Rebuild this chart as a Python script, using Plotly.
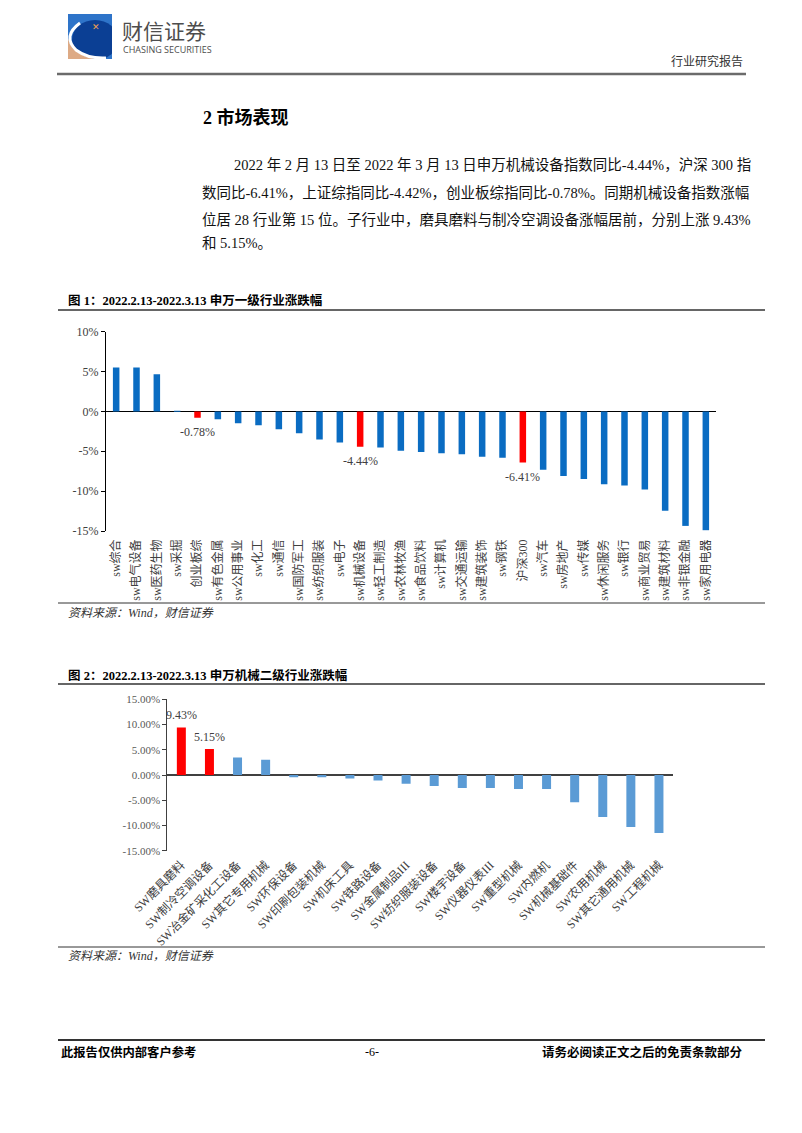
import plotly.graph_objects as go

# page is 802x1133; the html body adds an 8px margin, so the figure is drawn from (8, 8)
PAGE_W, PAGE_H = 802, 1133
OFF = 8
FW, FH = PAGE_W - OFF, PAGE_H - OFF

# ---------------- data ----------------
ind_names = ["sw综合", "sw电气设备", "sw医药生物", "sw采掘", "创业板综", "sw有色金属", "sw公用事业",
             "sw化工", "sw通信", "sw国防军工", "sw纺织服装", "sw电子", "sw机械设备", "sw轻工制造",
             "sw农林牧渔", "sw食品饮料", "sw计算机", "sw交通运输", "sw建筑装饰", "sw钢铁", "沪深300",
             "sw汽车", "sw房地产", "sw传媒", "sw休闲服务", "sw银行", "sw商业贸易", "sw建筑材料",
             "sw非银金融", "sw家用电器"]
ind_values = [5.50, 5.50, 4.66, 0.03, -0.78, -0.97, -1.48, -1.74, -2.25, -2.75, -3.52, -3.90, -4.44,
              -4.53, -4.92, -5.08, -5.25, -5.38, -5.68, -5.80, -6.41, -7.33, -8.10, -8.47, -9.15,
              -9.28, -9.79, -12.46, -14.36, -14.90]
ind_highlight = ["创业板综", "sw机械设备", "沪深300"]
ind_tickvals = [10, 5, 0, -5, -10, -15]
ind_ticktext = ["10%", "5%", "0%", "-5%", "-10%", "-15%"]

mach_names = ["SW磨具磨料", "SW制冷空调设备", "SW冶金矿采化工设备", "SW其它专用机械", "SW环保设备",
              "SW印刷包装机械", "SW机床工具", "SW铁路设备", "SW金属制品III", "SW纺织服装设备",
              "SW楼宇设备", "SW仪器仪表III", "SW重型机械", "SW内燃机", "SW机械基础件", "SW农用机械",
              "SW其它通用机械", "SW工程机械"]
mach_values = [9.43, 5.15, 3.45, 3.04, -0.47, -0.45, -0.68, -1.08, -1.75, -2.16, -2.57, -2.57,
               -2.77, -2.77, -5.40, -8.30, -10.30, -11.50]
mach_highlight = ["SW磨具磨料", "SW制冷空调设备"]
mach_tickvals = [15, 10, 5, 0, -5, -10, -15]
mach_ticktext = ["15.00%", "10.00%", "5.00%", "0.00%", "-5.00%", "-10.00%", "-15.00%"]

para_lines = [
    "2022 年 2 月 13 日至 2022 年 3 月 13 日申万机械设备指数同比-4.44%，沪深 300 指",
    "数同比-6.41%，上证综指同比-4.42%，创业板综指同比-0.78%。同期机械设备指数涨幅",
    "位居 28 行业第 15 位。子行业中，磨具磨料与制冷空调设备涨幅居前，分别上涨 9.43%",
    "和 5.15%。",
]

# ---------------- style ----------------
SERIF = "Liberation Serif, Noto Sans CJK SC"
CJK = "Noto Sans CJK SC"
BLUE1 = "#0A6CC2"
BLUE2 = "#5B9BD5"
RED = "#FF0000"
TXT = "#404040"


def X(px):
    return (px - OFF) / FW


def Y(py):
    return 1 - (py - OFF) / FH


fig = go.Figure()
fig.add_trace(go.Bar(
    x=ind_names, y=ind_values, width=0.32,
    marker=dict(color=[RED if n in ind_highlight else BLUE1 for n in ind_names], line_width=0),
    xaxis="x", yaxis="y", showlegend=False, hoverinfo="x+y"))
fig.add_trace(go.Bar(
    x=mach_names, y=mach_values, width=0.32,
    marker=dict(color=[RED if n in mach_highlight else BLUE2 for n in mach_names], line_width=0),
    xaxis="x2", yaxis="y2", showlegend=False, hoverinfo="x+y"))

annotations = []
shapes = []

# value labels
for n, v in zip(ind_names, ind_values):
    if n in ind_highlight:
        annotations.append(dict(x=n, y=v, xref="x", yref="y", text=f"{v:.2f}%", showarrow=False,
                                yanchor="top", yshift=-5, font=dict(family=SERIF, size=12, color=TXT)))
for n, v in zip(mach_names, mach_values):
    if n in mach_highlight:
        annotations.append(dict(x=n, y=v, xref="x2", yref="y2", text=f"{v:.2f}%", showarrow=False,
                                yanchor="bottom", yshift=3, font=dict(family=SERIF, size=12, color=TXT)))


def text(px, py, s, size, color="#000", family=SERIF, anchor="left", bold=False, italic=False):
    if bold:
        s = f"<b>{s}</b>"
    if italic:
        s = f"<i>{s}</i>"
    annotations.append(dict(x=X(px), y=Y(py), xref="paper", yref="paper", text=s, showarrow=False,
                            xanchor=anchor, yanchor="middle", font=dict(family=family, size=size, color=color)))


def hline(x0, x1, py, color, width):
    shapes.append(dict(type="line", xref="paper", yref="paper", x0=X(x0), x1=X(x1), y0=Y(py), y1=Y(py),
                       line=dict(color=color, width=width)))


# page header: logo
shapes.append(dict(type="rect", xref="paper", yref="paper", x0=X(68), x1=X(112), y0=Y(59), y1=Y(14),
                   fillcolor="#2E74C9", line_width=0, layer="above"))
shapes.append(dict(type="circle", xref="paper", yref="paper", x0=X(72), x1=X(118), y0=Y(60), y1=Y(20),
                   fillcolor="#0B3F94", line_width=0, layer="above"))
shapes.append(dict(type="rect", xref="paper", yref="paper", x0=X(112), x1=X(120), y0=Y(62), y1=Y(14),
                   fillcolor="white", line_width=0, layer="above"))
shapes.append(dict(type="rect", xref="paper", yref="paper", x0=X(66), x1=X(120), y0=Y(63), y1=Y(59),
                   fillcolor="white", line_width=0, layer="above"))
shapes.append(dict(type="path", xref="paper", yref="paper",
                   path=f"M {X(68)},{Y(38)} Q {X(72)},{Y(55)} {X(96)},{Y(59)} L {X(68)},{Y(59)} Z",
                   fillcolor="#DDAA85", line_width=0, layer="above"))
shapes.append(dict(type="path", xref="paper", yref="paper",
                   path=f"M {X(80)},{Y(23)} Q {X(62)},{Y(36)} {X(76)},{Y(50)} Q {X(88)},{Y(59)} {X(106)},{Y(58)}",
                   line=dict(color="white", width=3), layer="above"))
text(96, 26, "✕", 9, "#F0A050", CJK, "center")
text(120, 30, "财信证券", 21, "#4d4d4d", CJK)
text(121, 50, "CHASING SECURITIES", 9, "#4d4d4d", "Open Sans")
text(745, 61, "行业研究报告", 12, "#333", CJK, "right")
hline(57, 746, 74, "#6b6b6b", 2.5)

# section title and paragraph
text(201, 118, "2 市场表现", 18, "#000", SERIF, bold=True)
para_y = [165, 192, 219, 243]
for i, (line, py) in enumerate(zip(para_lines, para_y)):
    text(232 if i == 0 else 200, py, line, 14.5, "#111", SERIF)

# figure 1 caption / source
text(66, 300, "图 1：2022.2.13-2022.3.13 申万一级行业涨跌幅", 12.5, "#000", SERIF, bold=True)
hline(58, 765, 310, "#333", 1.5)
hline(58, 765, 603, "#333", 1)
text(66, 613, "资料来源：Wind，财信证券", 12, "#333", SERIF, italic=True)

# figure 2 caption / source
text(66, 675, "图 2：2022.2.13-2022.3.13 申万机械二级行业涨跌幅", 12.5, "#000", SERIF, bold=True)
hline(58, 765, 684, "#333", 1.5)
hline(58, 765, 947, "#333", 1)
text(66, 956, "资料来源：Wind，财信证券", 12, "#333", SERIF, italic=True)

# footer
hline(58, 765, 1040, "#333", 2)
text(59, 1052, "此报告仅供内部客户参考", 12.3, "#000", SERIF, bold=True)
text(372, 1052, "-6-", 12, "#000", SERIF, "center")
text(745, 1052, "请务必阅读正文之后的免责条款部分", 12.5, "#000", SERIF, "right", bold=True)

fig.update_layout(
    template="none",
    width=FW, height=FH, margin=dict(l=0, r=0, t=0, b=0, pad=0, autoexpand=False),
    paper_bgcolor="white", plot_bgcolor="white",
    bargap=0.6, showlegend=False,
    annotations=annotations, shapes=shapes,
    font=dict(family=SERIF, color=TXT),
    xaxis=dict(domain=[X(106), X(716)], anchor="y", type="category", range=[-0.5, 29.5],
               tickangle=-90, showline=False, ticks="", showgrid=False, ticklabelstandoff=5,
               automargin=False, zeroline=False,
               tickfont=dict(family=SERIF, size=12, color=TXT), fixedrange=True),
    yaxis=dict(domain=[Y(531), Y(331.7)], anchor="x", range=[-15, 10], tickvals=ind_tickvals,
               ticktext=ind_ticktext, showline=True, linecolor="#000", linewidth=1, ticks="outside",
               ticklen=4, tickcolor="#000", showgrid=False, zeroline=True, zerolinecolor="#000",
               zerolinewidth=1, automargin=False,
               tickfont=dict(family=SERIF, size=12, color=TXT), fixedrange=True),
    xaxis2=dict(domain=[X(167.3), X(673)], anchor="y2", type="category", range=[-0.5, 17.5],
                tickangle=-45, showline=False, ticks="", showgrid=False, ticklabelstandoff=4,
                automargin=False, zeroline=False,
                tickfont=dict(family=SERIF, size=12, color=TXT), fixedrange=True),
    yaxis2=dict(domain=[Y(850.7), Y(699.3)], anchor="x2", range=[-15, 15], tickvals=mach_tickvals,
                ticktext=mach_ticktext, showline=True, linecolor="#404040", linewidth=1, ticks="outside",
                ticklen=4, tickcolor="#404040", showgrid=False, zeroline=True, zerolinecolor="#404040",
                zerolinewidth=1.5, automargin=False,
                tickfont=dict(family=SERIF, size=11, color="#595959"), fixedrange=True),
)

fig.write_html("out.html")
